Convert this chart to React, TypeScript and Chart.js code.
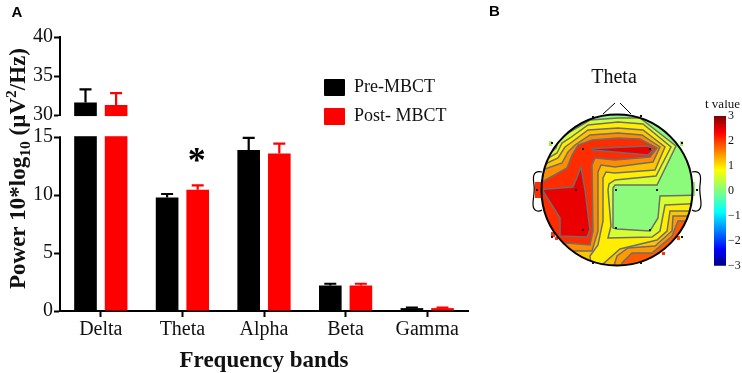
import React, { useEffect, useRef } from "react";
import { Chart, LinearScale, registerables } from "chart.js";

// ---------- bar chart data ----------
const bands = ["Delta", "Theta", "Alpha", "Beta", "Gamma"];
const preMean = [31.6, 9.8, 13.9, 2.2, 0.25];
const preErrTop = [33.3, 10.1, 14.95, 2.35, 0.3];
const postMean = [31.3, 10.47, 13.6, 2.2, 0.25];
const postErrTop = [32.8, 10.85, 14.45, 2.35, 0.3];
const yTicks = [0, 5, 10, 15, 30, 35, 40];
const significantIndex = 1;

// ---------- topographic map data: [x, y] corners of each contour level ----------
type P = [number, number];
const level0: P[] = [[500, 90], [742, 90], [742, 300], [500, 300]];
const level1: P[] = [[530, 162], [548, 155], [556, 148], [558, 142], [568, 133], [590, 120], [618, 118], [640, 118], [676, 146], [657, 185], [615, 185], [613, 188], [613, 228], [617, 229], [650, 231], [658, 218], [660, 196], [710, 195], [710, 290], [530, 290]];
const level2: P[] = [[530, 168], [545, 160], [557, 153], [562, 143], [570, 138], [588, 125], [618, 122], [643, 124], [671, 147], [656, 176], [615, 180], [609, 184], [608, 190], [611, 226], [608, 238], [652, 237], [660, 231], [665, 205], [710, 203], [710, 290], [530, 290]];
const level3: P[] = [[530, 172], [543, 165], [558, 158], [565, 147], [572, 142], [588, 130], [618, 128], [643, 130], [665, 147], [655, 170], [615, 173], [606, 172], [603, 178], [603, 221], [598, 245], [590, 256], [592, 272], [600, 272], [603, 264], [620, 249], [657, 240], [667, 231], [670, 211], [710, 211], [710, 290], [530, 290]];
const level4Left: P[] = [[530, 175], [542, 170], [562, 163], [568, 152], [575, 145], [590, 135], [618, 133], [642, 135], [660, 147], [653, 162], [615, 167], [601, 165], [598, 172], [598, 231], [592, 251], [572, 251], [560, 258], [525, 258]];
const level4Right: P[] = [[612, 272], [617, 256], [628, 248], [655, 246], [672, 231], [673, 216], [710, 216], [710, 290], [612, 290]];
const level5Left: P[] = [[530, 186], [542, 182], [567, 168], [572, 155], [578, 145], [592, 140], [618, 138], [640, 139], [657, 148], [650, 157], [615, 160], [595, 158], [592, 165], [593, 231], [590, 245], [567, 243], [550, 246], [525, 246]];
const level5Right: P[] = [[620, 272], [622, 263], [632, 253], [652, 253], [672, 236], [678, 221], [710, 221], [710, 290], [620, 290]];
const level5Rim: P[] = [[640, 275], [640, 265], [660, 254], [680, 233], [690, 222], [710, 222], [710, 280]];
const level6Ridge: P[] = [[592, 150], [592, 148.5], [648, 146], [653, 150], [648, 155], [615, 152]];
const level6Lobe: P[] = [[535, 190], [573, 187], [581, 167], [585, 190], [590, 230], [587, 237], [560, 236], [560, 218], [543, 191]];
const electrodes: P[] = [[583, 149], [650, 149], [576, 190], [616, 190], [657, 190], [583, 230], [616, 228], [650, 230], [552, 143], [682, 143], [537, 190], [697, 190], [552, 237], [682, 237], [593, 117], [641, 116], [593, 263], [641, 263]];
const rimSpill: [number, number, number, number, string][] = [
  [535, 182, 6, 16, "#FF3000"], [551, 232, 4, 5, "#FF3020"], [555, 237, 3, 3, "#FF3020"], [549, 141, 3, 5, "#A0F050"],
  [680, 141, 3, 5, "#90F070"], [692, 182, 3, 14, "#90F070"], [677, 236, 3, 4, "#FF5000"], [662, 252, 3, 3, "#FF3000"],
];

const fillLevels: { pts: P[]; color: string; line: boolean }[] = [
  { pts: level0, color: "#8CFB7C", line: false },
  { pts: level1, color: "#D4FF30", line: true },
  { pts: level2, color: "#FFEE00", line: true },
  { pts: level3, color: "#FFC400", line: true },
  { pts: level4Left, color: "#FF8C00", line: true },
  { pts: level4Right, color: "#FF9A00", line: true },
  { pts: level5Left, color: "#FF2C00", line: true },
  { pts: level5Right, color: "#FF5A00", line: true },
  { pts: level5Rim, color: "#FF2000", line: false },
  { pts: level6Ridge, color: "#EE0000", line: true },
  { pts: level6Lobe, color: "#EA0000", line: true },
];

// ---------- colour bar ----------
const barRange: [number, number] = [-3, 3];
const barTicks = [-3, -2, -1, 0, 1, 2, 3];
const jetStops: [number, string][] = [[0, "#00007F"], [0.11, "#0000FF"], [0.36, "#00FFFF"], [0.5, "#80FF80"], [0.64, "#FFFF00"], [0.89, "#FF0000"], [1, "#7F0000"]];

const SERIF = "'Liberation Serif', 'Times New Roman', serif";
const LOW_SHARE = 173.4 / 273.4;
const GAP_SHARE = 22.1 / 273.4;

class BrokenScale extends LinearScale {
  static id = "broken";
  static defaults = LinearScale.defaults;
  buildTicks() {
    return yTicks.map((value) => ({ value }));
  }
  getPixelForValue(v: number) {
    let d: number;
    if (v <= 15) d = (v / 15) * LOW_SHARE;
    else if (v >= 30) d = LOW_SHARE + GAP_SHARE + ((v - 30) / 10) * (1 - LOW_SHARE - GAP_SHARE);
    else d = LOW_SHARE + ((v - 15) / 15) * GAP_SHARE;
    return this.getPixelForDecimal(d);
  }
  getValueForPixel(p: number) {
    const d = this.getDecimalForPixel(p);
    if (d <= LOW_SHARE) return (d / LOW_SHARE) * 15;
    if (d >= LOW_SHARE + GAP_SHARE) return 30 + ((d - LOW_SHARE - GAP_SHARE) / (1 - LOW_SHARE - GAP_SHARE)) * 10;
    return 15 + ((d - LOW_SHARE) / GAP_SHARE) * 15;
  }
}
Chart.register(...registerables, BrokenScale);
Chart.defaults.font.family = SERIF;
Chart.defaults.color = "#111";

const barDecor = {
  id: "barDecor",
  afterDatasetsDraw(chart: any) {
    const { ctx, scales } = chart;
    const y = scales.y;
    ctx.save();
    // axis break
    ctx.fillStyle = "#fff";
    const top = y.getPixelForValue(30) + 1;
    const bottom = y.getPixelForValue(15) - 1;
    ctx.fillRect(y.right - 2, top, chart.chartArea.right - y.right + 4, bottom - top);
    // error bars
    const errs = [preErrTop, postErrTop];
    chart.data.datasets.forEach((ds: any, di: number) => {
      const meta = chart.getDatasetMeta(di);
      ctx.strokeStyle = ds.backgroundColor;
      ctx.lineWidth = 2.2;
      meta.data.forEach((bar: any, i: number) => {
        const yTop = y.getPixelForValue(errs[di][i]);
        ctx.beginPath();
        ctx.moveTo(bar.x, bar.y);
        ctx.lineTo(bar.x, yTop);
        ctx.moveTo(bar.x - 6, yTop);
        ctx.lineTo(bar.x + 6, yTop);
        ctx.stroke();
      });
    });
    // significance star
    const star = chart.getDatasetMeta(1).data[significantIndex];
    ctx.fillStyle = "#000";
    ctx.font = `bold 36px ${SERIF}`;
    ctx.textAlign = "center";
    ctx.textBaseline = "alphabetic";
    ctx.fillText("*", star.x - 1, star.y - 18);
    // legend
    ctx.textBaseline = "middle";
    ctx.textAlign = "left";
    ctx.font = `18px ${SERIF}`;
    chart.data.datasets.forEach((ds: any, di: number) => {
      const ly = di === 0 ? 79 : 108;
      ctx.fillStyle = ds.backgroundColor;
      ctx.beginPath();
      ctx.roundRect(324, ly, 21, 17, 1);
      ctx.fill();
      ctx.fillStyle = "#111";
      ctx.fillText(ds.label, 354, di === 0 ? 87 : 116.5);
    });
    // panel letters
    ctx.fillStyle = "#000";
    ctx.textBaseline = "alphabetic";
    ctx.font = "bold 15px 'Liberation Sans', Arial, sans-serif";
    ctx.fillText("A", 11.5, 17);
    ctx.fillText("B", 489, 16);
    // rotated y title with sub- and superscript
    ctx.translate(25, 289);
    ctx.rotate(-Math.PI / 2);
    ctx.fillStyle = "#111";
    const parts: [string, number, number][] = [["Power 10*log", 23, 0], ["10", 15.5, 5], [" (µV", 23, 0], ["2", 15.5, -9], ["/Hz)", 23, 0]];
    let px = 0;
    for (const [t, size, dy] of parts) {
      ctx.font = `bold ${size}px ${SERIF}`;
      ctx.fillText(t, px, dy);
      px += ctx.measureText(t).width;
    }
    ctx.restore();
  },
};

const CX = 617;
const CY = 190;
const R = 75.5;

const topoDecor = {
  id: "topoDecor",
  beforeDatasetsDraw(chart: any) {
    const { ctx, scales } = chart;
    ctx.save();
    ctx.beginPath();
    ctx.arc(scales.x.getPixelForValue(CX), scales.y.getPixelForValue(CY), R, 0, Math.PI * 2);
    ctx.clip();
  },
  afterDatasetsDraw(chart: any) {
    const { ctx, scales } = chart;
    ctx.restore();
    const X = (v: number) => scales.x.getPixelForValue(v);
    const Y = (v: number) => scales.y.getPixelForValue(v);
    ctx.save();
    for (const [sx, sy, w, h, c] of rimSpill) {
      ctx.fillStyle = c;
      ctx.fillRect(X(sx), Y(sy), w, h);
    }
    ctx.strokeStyle = "#000";
    ctx.lineWidth = 2;
    ctx.beginPath();
    ctx.arc(X(CX), Y(CY), R, 0, Math.PI * 2);
    ctx.stroke();
    // nose
    ctx.lineWidth = 1;
    ctx.beginPath();
    ctx.moveTo(X(603), Y(114));
    ctx.lineTo(X(615), Y(103));
    ctx.moveTo(X(620), Y(103));
    ctx.lineTo(X(631), Y(114));
    ctx.stroke();
    // ears
    ctx.lineWidth = 1.2;
    for (const s of [-1, 1]) {
      const ex = (d: number) => X(CX + s * d);
      ctx.beginPath();
      ctx.moveTo(ex(75), Y(172));
      ctx.bezierCurveTo(ex(85), Y(170), ex(84), Y(178), ex(83), Y(185));
      ctx.bezierCurveTo(ex(82), Y(192), ex(84), Y(198), ex(84), Y(204));
      ctx.bezierCurveTo(ex(84), Y(212), ex(78), Y(212), ex(75), Y(210));
      ctx.stroke();
    }
    // electrodes
    ctx.fillStyle = "#111";
    for (const [ax, ay] of electrodes) ctx.fillRect(X(ax) - 1, Y(ay) - 1, 2, 2);
    // title
    ctx.textAlign = "center";
    ctx.textBaseline = "middle";
    ctx.fillStyle = "#111";
    ctx.font = `20px ${SERIF}`;
    ctx.fillText("Theta", X(614), Y(78));
    ctx.restore();
  },
};

const cbarDecor = {
  id: "cbarDecor",
  afterDraw(chart: any) {
    const { ctx } = chart;
    ctx.save();
    ctx.fillStyle = "#111";
    ctx.font = `13px ${SERIF}`;
    ctx.textAlign = "left";
    ctx.textBaseline = "middle";
    ctx.fillText("t value", 3, 4.5);
    ctx.restore();
  },
};

const CBAR_TOP = 16;
const CBAR_BOTTOM = 9;

export default function App() {
  const barRef = useRef<HTMLCanvasElement>(null);
  const topoRef = useRef<HTMLCanvasElement>(null);
  const cbarRef = useRef<HTMLCanvasElement>(null);

  useEffect(() => {
    const bar = new Chart(barRef.current!, {
      type: "bar",
      data: {
        labels: bands,
        datasets: [
          { label: "Pre-MBCT", data: preMean, backgroundColor: "#000000", categoryPercentage: 0.75, barPercentage: 0.74 },
          { label: "Post- MBCT", data: postMean, backgroundColor: "#FF0000", categoryPercentage: 0.75, barPercentage: 0.74 },
        ],
      },
      options: {
        animation: false,
        responsive: false,
        layout: { padding: { top: 37, right: 32, bottom: 0, left: 0 } },
        plugins: { legend: { display: false }, tooltip: { enabled: false } },
        scales: {
          x: {
            grid: { offset: false, drawOnChartArea: false, tickColor: "#000", tickWidth: 2, tickLength: 6 },
            border: { color: "#000", width: 2 },
            ticks: { font: { size: 20 }, color: "#111", padding: 1, maxRotation: 0 },
            title: { display: true, text: "Frequency bands", font: { size: 23, weight: "bold" }, color: "#111", padding: { top: 0, bottom: -2 } },
            afterFit: (s: any) => { s.height = 62; },
          },
          y: {
            type: "broken",
            min: 0,
            max: 40,
            grid: { drawOnChartArea: false, tickColor: "#000", tickWidth: 2, tickLength: 6 },
            border: { color: "#000", width: 2 },
            ticks: { font: { size: 20 }, color: "#111", padding: 1, autoSkip: false },
            afterFit: (s: any) => { s.width = 60; },
          },
        },
      } as any,
      plugins: [barDecor],
    } as any);

    const topo = new Chart(topoRef.current!, {
      type: "scatter",
      data: {
        datasets: fillLevels.map((lv, i) => ({
          data: [...lv.pts, lv.pts[0]].map(([x, y]) => ({ x, y })),
          showLine: true,
          fill: "shape",
          backgroundColor: lv.color,
          borderColor: lv.line ? "#6E6E6E" : "rgba(0,0,0,0)",
          borderWidth: lv.line ? 1.5 : 0,
          pointRadius: 0,
          tension: 0,
          order: fillLevels.length - i,
        })),
      },
      options: {
        animation: false,
        responsive: false,
        layout: { padding: 0 },
        plugins: { legend: { display: false }, tooltip: { enabled: false } },
        scales: {
          x: { type: "linear", display: false, min: 500, max: 742 },
          y: { type: "linear", display: false, min: 0, max: 373, reverse: true },
        },
      } as any,
      plugins: [topoDecor],
    } as any);

    const cbar = new Chart(cbarRef.current!, {
      type: "bar",
      data: {
        labels: ["t"],
        datasets: [
          {
            data: [barRange],
            barPercentage: 1,
            categoryPercentage: 1,
            backgroundColor: (c: any) => {
              const g = c.chart.ctx.createLinearGradient(0, c.chart.height - CBAR_BOTTOM, 0, CBAR_TOP);
              jetStops.forEach(([o, col]) => g.addColorStop(o, col));
              return g;
            },
          },
        ],
      },
      options: {
        animation: false,
        responsive: false,
        layout: { padding: { top: CBAR_TOP, bottom: CBAR_BOTTOM, left: 12, right: 0 } },
        plugins: { legend: { display: false }, tooltip: { enabled: false } },
        scales: {
          x: { display: false },
          y: {
            position: "right",
            min: barRange[0],
            max: barRange[1],
            grid: { display: false, drawTicks: false },
            border: { display: false },
            afterBuildTicks: (s: any) => { s.ticks = barTicks.map((value) => ({ value })); },
            ticks: {
              font: { size: 12 },
              color: "#111",
              padding: 2,
              callback: (v: any) => (v < 0 ? "\u2212" + Math.abs(v) : String(v)),
            },
            afterFit: (s: any) => { s.width = 16; },
          },
        },
      } as any,
      plugins: [cbarDecor],
    } as any);

    return () => {
      bar.destroy();
      topo.destroy();
      cbar.destroy();
    };
  }, []);

  const abs = (left: number, top: number): React.CSSProperties => ({ position: "absolute", left, top, display: "block" });
  return (
    <div style={{ position: "fixed", left: 0, top: 0, width: 742, height: 373, background: "#fff", overflow: "hidden" }}>
      <canvas ref={barRef} width={500} height={373} style={abs(0, 0)} />
      <canvas ref={topoRef} width={242} height={373} style={abs(500, 0)} />
      <canvas ref={cbarRef} width={40} height={175} style={abs(702, 100)} />
    </div>
  );
}
